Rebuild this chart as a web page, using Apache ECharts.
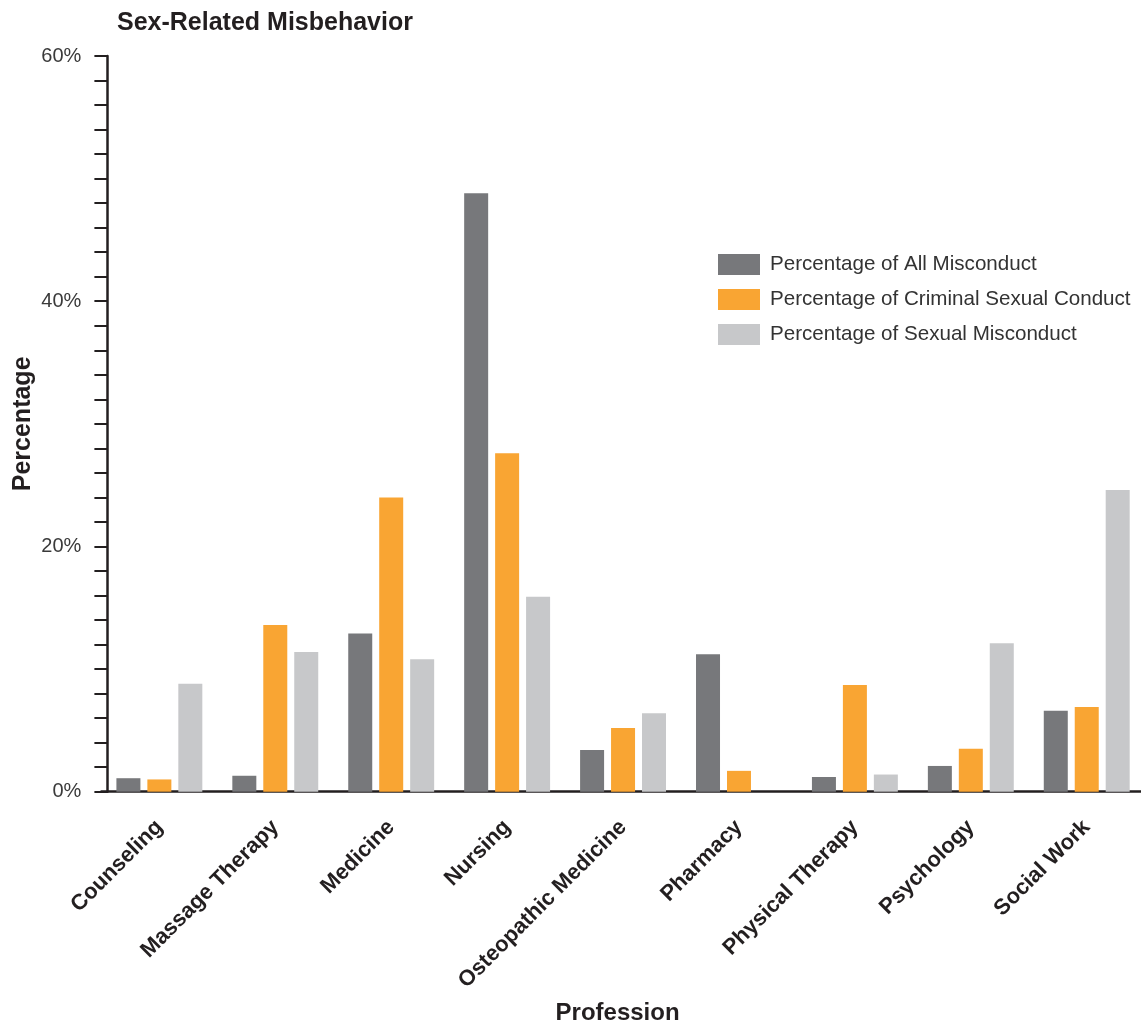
<!DOCTYPE html>
<html>
<head>
<meta charset="utf-8">
<title>Sex-Related Misbehavior</title>
<script src="https://cdn.jsdelivr.net/npm/echarts@6/dist/echarts.min.js"></script>
<style>
  html, body { margin: 0; padding: 0; background: #ffffff; }
  #chart { width: 1141px; height: 1024px; }
</style>
</head>
<body>
<div id="chart"></div>
<script>
// Professions on the x axis
var professions = [
  'Counseling', 'Massage Therapy', 'Medicine', 'Nursing', 'Osteopathic Medicine',
  'Pharmacy', 'Physical Therapy', 'Psychology', 'Social Work'
];

// Share of each misconduct type (percent) per profession
var allMisconduct      = [1.1, 1.3, 12.9, 48.8, 3.4, 11.2, 1.2, 2.1, 6.6];
var criminalSexual     = [1.0, 13.6, 24.0, 27.6, 5.2, 1.7, 8.7, 3.5, 6.9];
var sexualMisconduct   = [8.8, 11.4, 10.8, 15.9, 6.4, 0, 1.4, 12.1, 24.6];

var seriesNames = [
  'Percentage of All Misconduct',
  'Percentage of Criminal Sexual Conduct',
  'Percentage of Sexual Misconduct'
];

var yTicks = { min: 0, max: 60, interval: 20 };

var FONT = '"Liberation Sans", Arial, sans-serif';
var INK = '#231f20';

var chart = echarts.init(document.getElementById('chart'), null, { renderer: 'canvas' });

function barSeries(name, data, color) {
  return {
    name: name,
    type: 'bar',
    data: data,
    barWidth: 24,
    barGap: '29%',
    itemStyle: { color: color },
    emphasis: { disabled: true }
  };
}

chart.setOption({
  animation: false,
  backgroundColor: '#ffffff',
  title: {
    text: 'Sex-Related Misbehavior',
    left: 112,
    top: 6,
    textStyle: { fontFamily: FONT, fontSize: 25, fontWeight: 'bold', color: INK }
  },
  legend: {
    orient: 'vertical',
    left: 713,
    top: 249,
    itemWidth: 42,
    itemHeight: 21,
    itemGap: 14,
    icon: 'rect',
    textStyle: { fontFamily: FONT, fontSize: 20.6, color: '#333333', padding: [0, 0, 0, 5] },
    data: seriesNames
  },
  // The plot area is placed exactly; the rotated labels hang below it.
  grid: {
    left: 101.4, right: -3.7, top: 56, bottom: 232.3,
    containLabel: false,
    outerBoundsMode: 'none'
  },
  xAxis: {
    type: 'category',
    data: professions,
    name: 'Profession',
    nameLocation: 'middle',
    nameGap: 210,
    nameMoveOverlap: false,
    nameTextStyle: { fontFamily: FONT, fontSize: 24, fontWeight: 'bold', color: INK, padding: [0, 11, 0, 0] },
    axisLine: { lineStyle: { color: INK, width: 2.5 } },
    axisTick: { alignWithLabel: true, length: 16, lineStyle: { color: INK, width: 2 } },
    axisLabel: {
      rotate: 45,
      interval: 0,
      margin: 32,
      fontFamily: FONT,
      fontSize: 22,
      fontWeight: 'bold',
      color: INK
    }
  },
  yAxis: {
    type: 'value',
    min: yTicks.min,
    max: yTicks.max,
    interval: yTicks.interval,
    offset: -6,
    name: 'Percentage',
    nameLocation: 'middle',
    nameGap: 72,
    nameMoveOverlap: false,
    nameTextStyle: { fontFamily: FONT, fontSize: 25, fontWeight: 'bold', color: INK },
    axisLine: { show: true, lineStyle: { color: INK, width: 2.5 } },
    axisTick: { show: true, length: 13, lineStyle: { color: INK, width: 2 } },
    minorTick: { show: true, splitNumber: 10, length: 13, lineStyle: { color: INK, width: 2 } },
    splitLine: { show: false },
    axisLabel: {
      margin: 26,
      fontFamily: FONT,
      fontSize: 20,
      color: '#3a3a3a',
      formatter: '{value}%'
    }
  },
  series: [
    barSeries(seriesNames[0], allMisconduct, '#77787b'),
    barSeries(seriesNames[1], criminalSexual, '#f9a533'),
    barSeries(seriesNames[2], sexualMisconduct, '#c7c8ca')
  ]
});
</script>
</body>
</html>
